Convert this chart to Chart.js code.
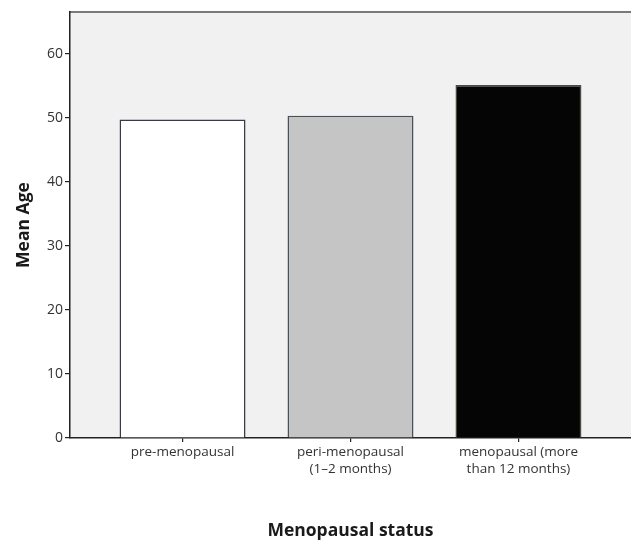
<!DOCTYPE html>
<html>
<head>
<meta charset="utf-8">
<script src="https://cdn.jsdelivr.net/npm/chart.js@4.4.1/dist/chart.umd.min.js"></script>
<style>
  body { margin: 0; background: #fff; }
  #wrap { width: 631px; height: 540px; }
</style>
</head>
<body>
<div id="wrap"><canvas id="myChart" width="631" height="540"></canvas></div>
<script>
// chart data
const categories = [
  'pre-menopausal',
  ['peri-menopausal', '(1\u20132 months)'],
  ['menopausal (more', 'than 12 months)']
];
const meanAge = [49.7, 50.3, 55.1];
const yTicks = [0, 10, 20, 30, 40, 50, 60];
const barFills = ['#ffffff', '#c4c5c4', '#050505'];
const barEdges = ['#3d3844', '#4b5058', '#4a4c44'];

const font = "'Open Sans', 'DejaVu Sans', sans-serif";

// plot background + grey top line
const plotBg = {
  id: 'plotBg',
  beforeDraw(chart) {
    const a = chart.chartArea, ctx = chart.ctx;
    ctx.save();
    ctx.fillStyle = '#f0f1f0';
    ctx.fillRect(a.left, a.top, a.right - a.left, a.bottom - a.top);
    ctx.strokeStyle = '#7a7a7a';
    ctx.lineWidth = 2;
    ctx.beginPath();
    ctx.moveTo(a.left, a.top);
    ctx.lineTo(a.right, a.top);
    ctx.stroke();
    ctx.restore();
  }
};

new Chart('myChart', {
  type: 'bar',
  data: {
    datasets: [{
      data: meanAge.map((v, i) => ({ x: i, y: v })),
      backgroundColor: barFills,
      borderColor: barEdges,
      borderWidth: 1.5,
      categoryPercentage: 1,
      barPercentage: 0.75
    }]
  },
  options: {
    responsive: false,
    animation: false,
    layout: { padding: { top: 12, right: 0, bottom: 0, left: 0 } },
    plugins: { legend: { display: false }, tooltip: { enabled: false } },
    scales: {
      x: {
        type: 'linear',
        offset: false,
        min: -0.67,
        max: 2.67,
        afterBuildTicks: s => { s.ticks = categories.map((c, i) => ({ value: i })); },
        afterFit: s => { s.height = 102; },
        grid: { offset: false, drawOnChartArea: false, tickLength: 4, color: '#222', lineWidth: 1.2 },
        border: { display: true, color: '#222', width: 1.5 },
        ticks: {
          autoSkip: false,
          maxRotation: 0,
          padding: 1,
          color: '#333',
          font: { family: font, size: 13.5, lineHeight: 1.3 },
          callback: v => categories[v]
        },
        title: {
          display: true,
          text: 'Menopausal status',
          color: '#1a1a1a',
          padding: { top: 0, bottom: -2 },
          font: { family: font, size: 17.5, weight: 'bold' }
        }
      },
      y: {
        min: 0,
        max: 66.5,
        afterBuildTicks: s => { s.ticks = yTicks.map(v => ({ value: v })); },
        afterFit: s => { s.width = 70; },
        grid: { drawOnChartArea: false, tickLength: 5, color: '#222', lineWidth: 1.2 },
        border: { display: true, color: '#222', width: 1.5 },
        ticks: {
          padding: 2,
          color: '#333',
          font: { family: font, size: 14 }
        },
        title: {
          display: true,
          text: 'Mean Age',
          color: '#1a1a1a',
          padding: { top: 14, bottom: 0 },
          font: { family: font, size: 17.5, weight: 'bold' }
        }
      }
    }
  },
  plugins: [plotBg]
});
</script>
</body>
</html>
